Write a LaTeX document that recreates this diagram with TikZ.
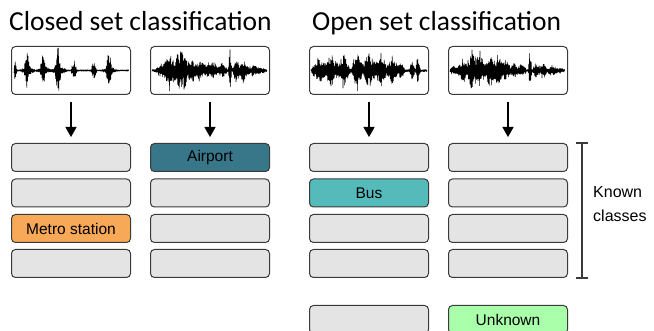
\documentclass[tikz,border=0pt]{standalone}
\usepackage{fontspec}
\setmainfont{Liberation Sans}
\newfontfamily\titlefont{Carlito}
\usetikzlibrary{arrows.meta}
\definecolor{boxgray}{HTML}{E4E4E4}
\definecolor{edge}{HTML}{3A3A3A}
\definecolor{airport}{HTML}{387789}
\definecolor{bus}{HTML}{55BABA}
\definecolor{metro}{HTML}{F8A958}
\definecolor{unknown}{HTML}{AAFFAA}
\tikzset{
  cls/.style={draw=edge, line width=1pt, fill=boxgray, rounded corners=4pt,
    minimum width=119pt, minimum height=28pt, inner sep=0pt,
    font=\fontsize{15.5}{18}\selectfont},
  wavebox/.style={draw=edge, line width=1pt, rounded corners=4pt,
    minimum width=119pt, minimum height=48pt, inner sep=0pt},
  flow/.style={-{Triangle[width=11pt,length=10pt]}, line width=1.3pt,
    shorten <=7pt, shorten >=6pt},
  sig/.style={line width=0.55pt, black, line join=round},
  title/.style={font=\titlefont\fontsize{27.5}{32}\selectfont, anchor=base west, inner sep=0pt}
}
\begin{document}
\begin{tikzpicture}[x=1pt, y=-1pt,
  declare function={
    tri(\pp,\cc,\ww)=max(0,1-abs(\pp-\cc)/\ww);
    envA(\pp)=min(23, 0.8 + 9*tri(\pp,15,2.5) + 15*tri(\pp,27,3) + 15*tri(\pp,43,3)
      + 23*tri(\pp,58,3) + 12*tri(\pp,74,3) + 12*tri(\pp,94,3) + 19*tri(\pp,109,3)
      + 4*tri(\pp,28,8) + 4*tri(\pp,44,8) + 5*tri(\pp,59,8) + 4*tri(\pp,110,8));
    envB(\pp)=min(23, 1 + 7*tri(\pp,162,8) + 21*tri(\pp,170,6) + 19*tri(\pp,178,5)
      + 20*tri(\pp,184,6) + 14*tri(\pp,192,5) + 12*tri(\pp,200,6) + 8*tri(\pp,208,5)
      + 10*tri(\pp,214,4) + 8*tri(\pp,222,6) + 23*tri(\pp,230,2) + 12*tri(\pp,236,4)
      + 12*tri(\pp,243,6) + 5*tri(\pp,253,8) + 2*tri(\pp,262,6));
    envC(\pp)=min(23, 1.2 + 14*tri(\pp,319,8) + 16*tri(\pp,331,8) + 17*tri(\pp,343,8)
      + 23*tri(\pp,357,6) + 18*tri(\pp,369,8) + 16*tri(\pp,381,8) + 17*tri(\pp,393,6)
      + 9*tri(\pp,401,4) + 12*tri(\pp,412,3) + 14*tri(\pp,418,3));
    envD(\pp)=min(23, 1 + 4*tri(\pp,454,6) + 14*tri(\pp,463,6) + 21*tri(\pp,472,6)
      + 20*tri(\pp,480,6) + 19*tri(\pp,490,6) + 16*tri(\pp,498,6) + 12*tri(\pp,506,5)
      + 8*tri(\pp,514,5) + 7*tri(\pp,522,5) + 21*tri(\pp,530,2) + 9*tri(\pp,536,4)
      + 9*tri(\pp,543,5) + 5*tri(\pp,552,6) + 2*tri(\pp,560,5));
  }]
   \useasboundingbox (0,0) rectangle (654,331);
   \pgfmathsetseed{7}

   \node[title] (tc) at (9,31) {Closed set classification};
   \node[title] (to) at (312,31) {Open set classification};

   \node[wavebox] (wA) at (71,70.5) {};
   \node[wavebox] (wB) at (210,70.5) {};
   \node[wavebox] (wC) at (369,70.5) {};
   \node[wavebox] (wD) at (508,70.5) {};

   \draw[sig] plot[variable=\k, domain=0:287, samples=288]
     ({14+0.4*\k}, {70.5+envA(14+0.4*\k)*(0.35+0.65*rnd)*(1-2*mod(round(\k),2))});
   \draw[sig] plot[variable=\k, domain=0:287, samples=288]
     ({152+0.4*\k}, {70.5+envB(152+0.4*\k)*(0.35+0.65*rnd)*(1-2*mod(round(\k),2))});
   \draw[sig] plot[variable=\k, domain=0:290, samples=291]
     ({311+0.4*\k}, {70.5+envC(311+0.4*\k)*(0.35+0.65*rnd)*(1-2*mod(round(\k),2))});
   \draw[sig] plot[variable=\k, domain=0:287, samples=288]
     ({450+0.4*\k}, {70.5+envD(450+0.4*\k)*(0.35+0.65*rnd)*(1-2*mod(round(\k),2))});

   \node[cls] (A1) at (71,157.5) {};
   \node[cls] (A2) at (71,193) {};
   \node[cls, fill=metro] (A3) at (71,228.5) {Metro station};
   \node[cls] (A4) at (71,263.5) {};

   \node[cls, fill=airport] (B1) at (210,157.5) {Airport};
   \node[cls] (B2) at (210,193) {};
   \node[cls] (B3) at (210,228.5) {};
   \node[cls] (B4) at (210,263.5) {};

   \node[cls] (C1) at (369,157.5) {};
   \node[cls, fill=bus] (C2) at (369,193) {Bus};
   \node[cls] (C3) at (369,228.5) {};
   \node[cls] (C4) at (369,263.5) {};
   \node[cls] (C5) at (369,319.5) {};

   \node[cls] (D1) at (508,157.5) {};
   \node[cls] (D2) at (508,193) {};
   \node[cls] (D3) at (508,228.5) {};
   \node[cls] (D4) at (508,263.5) {};
   \node[cls, fill=unknown] (D5) at (508,319.5) {Unknown};

   \draw[flow] (wA) -- (A1);
   \draw[flow] (wB) -- (B1);
   \draw[flow] (wC) -- (C1);
   \draw[flow] (wD) -- (D1);

   % bracket over the known classes
   \coordinate (kt) at (582,143);
   \coordinate (kb) at (582,278);
   \draw[edge, line width=1.3pt] (kt) -- (kb);
   \draw[edge, line width=1.3pt] ([xshift=-6pt]kt) -- ([xshift=6pt]kt);
   \draw[edge, line width=1.3pt] ([xshift=-6pt]kb) -- ([xshift=6pt]kb);
   \node[anchor=west, align=left, inner sep=0pt, font=\fontsize{16}{24}\selectfont]
     (k) at (593,204) {Known\\classes};
 \end{tikzpicture}
\end{document}
